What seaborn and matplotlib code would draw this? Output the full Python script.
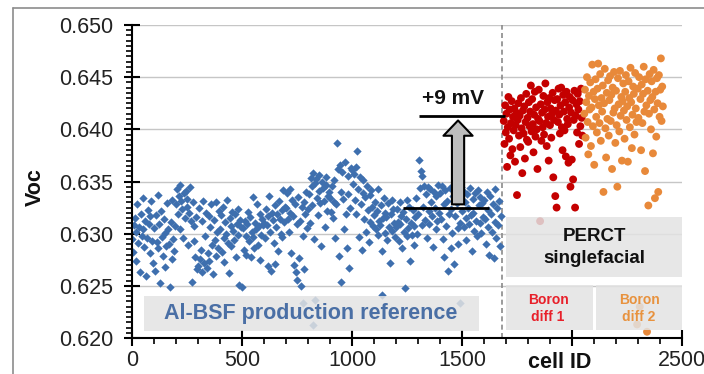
import numpy as np
import pandas as pd
import matplotlib
matplotlib.use("Agg")
import matplotlib.pyplot as plt
import seaborn as sns
from matplotlib.lines import Line2D
from matplotlib.patches import Rectangle
from matplotlib.ticker import MultipleLocator, FormatStrFormatter

# ---------------- data (Voc in mV) ----------------
# Al-BSF reference: every 4th cell, one list per 100-cell block
blue_0000 = [629.5, 628.2, 630.8, 631.5, 627.4, 630.2, 632.8, 629.1, 630.6, 626.3, 631.9, 629.8, 633.4, 630.4, 628.7, 631.2, 625.9, 629.6, 632.3, 630.9, 628.1, 631.7, 633.1, 629.3, 627.2]
blue_0100 = [630.5, 626.4, 631.8, 629.2, 633.7, 628.6, 630.9, 625.3, 632.2, 629.7, 627.9, 631.4, 630.1, 626.8, 628.8, 632.9, 630.4, 629.0, 624.9, 631.1, 627.6, 633.2, 629.5, 628.3, 630.7]
blue_0200 = [632.8, 634.3, 631.9, 633.6, 630.4, 634.7, 633.1, 632.4, 629.6, 633.9, 631.5, 634.1, 632.6, 633.3, 628.9, 632.0, 634.5, 631.2, 625.4, 633.0, 630.7, 629.3, 627.8, 631.6, 626.6]
blue_0300 = [626.9, 632.5, 627.6, 628.4, 631.2, 626.3, 633.1, 627.2, 629.8, 632.0, 626.7, 628.1, 631.7, 627.4, 630.6, 632.8, 628.9, 626.1, 631.3, 629.4, 633.0, 627.9, 630.2, 628.6, 632.2]
blue_0400 = [630.4, 631.8, 628.2, 632.6, 629.6, 627.3, 631.1, 630.0, 633.2, 629.1, 626.2, 631.5, 630.7, 628.8, 632.1, 630.3, 629.4, 631.9, 627.8, 630.9, 632.4, 629.9, 625.1, 631.3, 630.6]
blue_0500 = [624.9, 630.5, 628.4, 631.2, 629.8, 628.0, 630.9, 632.1, 629.3, 631.6, 627.8, 630.2, 633.5, 629.7, 628.6, 631.0, 630.4, 632.8, 628.9, 630.7, 631.9, 627.5, 629.9, 631.4, 630.8]
blue_0600 = [631.0, 629.6, 632.4, 630.8, 626.9, 631.7, 633.6, 630.2, 626.4, 632.0, 631.3, 629.1, 627.1, 632.7, 630.6, 631.9, 628.3, 633.1, 631.4, 630.0, 632.3, 629.7, 634.2, 631.1, 632.6]
blue_0700 = [632.5, 633.9, 631.4, 630.2, 634.3, 632.0, 628.1, 633.2, 631.7, 627.0, 632.8, 626.3, 630.9, 625.6, 633.5, 627.7, 631.2, 625.0, 632.6, 629.8, 633.0, 626.6, 631.9, 634.0, 630.5]
blue_0800 = [632.4, 633.8, 631.0, 635.3, 634.6, 632.7, 635.8, 629.5, 634.9, 635.2, 633.4, 631.8, 635.6, 634.1, 632.9, 628.8, 635.0, 634.4, 633.1, 630.6, 634.7, 635.4, 632.2, 633.6, 634.0]
blue_0900 = [633.4, 632.1, 634.6, 631.5, 633.0, 635.1, 629.6, 632.8, 638.7, 636.2, 627.9, 636.6, 634.0, 625.4, 635.9, 633.3, 630.4, 636.9, 631.9, 628.6, 635.5, 633.8, 626.7, 632.5, 636.3]
blue_1000 = [636.1, 634.8, 635.7, 633.2, 636.4, 631.9, 637.9, 634.3, 629.7, 635.4, 632.8, 628.4, 633.9, 635.1, 631.4, 633.5, 630.2, 634.6, 632.3, 629.2, 633.7, 631.1, 634.2, 632.6, 630.7]
blue_1100 = [631.8, 633.0, 630.4, 632.2, 629.9, 634.3, 631.2, 630.8, 632.7, 628.3, 631.5, 633.4, 630.1, 632.0, 631.6, 629.4, 632.9, 630.6, 627.2, 631.9, 633.2, 630.3, 632.4, 631.0, 629.7]
blue_1200 = [630.6, 632.4, 631.1, 629.3, 633.0, 630.9, 631.7, 628.6, 632.1, 630.2, 624.8, 631.4, 633.2, 629.8, 630.5, 632.6, 627.4, 631.0, 629.9, 632.3, 630.7, 628.9, 631.6, 633.4, 630.0]
blue_1300 = [631.9, 637.1, 634.4, 636.0, 630.8, 635.5, 632.6, 634.6, 631.3, 633.8, 629.6, 634.5, 632.2, 630.9, 634.3, 633.0, 631.7, 628.7, 634.0, 632.5, 630.4, 633.6, 631.2, 634.7, 632.0]
blue_1400 = [633.9, 631.4, 634.6, 629.5, 632.8, 627.8, 634.2, 630.7, 633.1, 626.4, 631.9, 634.4, 628.6, 632.4, 630.1, 633.6, 627.1, 631.7, 634.0, 632.9, 630.5, 629.0, 633.3, 631.0, 634.5]
blue_1500 = [632.2, 634.1, 630.6, 633.0, 631.5, 629.4, 633.8, 632.5, 630.9, 634.4, 631.8, 628.3, 633.3, 632.0, 630.3, 633.9, 631.2, 629.8, 634.2, 632.7, 631.0, 633.5, 630.1, 632.9, 631.6]
blue_1600 = [633.2, 631.4, 629.0, 634.0, 630.6, 632.3, 628.0, 633.6, 631.9, 630.2, 632.8, 627.7, 631.1, 634.3, 629.6, 632.5, 630.8, 633.1, 628.8, 631.7]
blue_extra_id = [777, 823, 832, 1136, 1491]
blue_extra_mv = [623.4, 621.2, 623.6, 624.1, 623.4]

# PERC boron diff 1: every 3rd cell, one list per 60-cell block from 1690
red_1690 = [640.8, 638.6, 642.3, 639.7, 641.5, 636.4, 640.2, 643.1, 639.1, 641.9, 637.5, 640.6, 642.7, 638.1, 641.2, 639.9, 642.0, 636.9, 640.4, 641.6]
red_1750 = [633.7, 640.9, 642.5, 639.4, 641.3, 638.3, 643.0, 640.1, 635.8, 641.8, 639.6, 642.2, 637.2, 640.7, 643.4, 639.0, 641.1, 638.8, 642.6, 640.3]
red_1810 = [641.7, 644.2, 639.8, 642.9, 640.5, 637.8, 641.4, 643.6, 639.3, 642.1, 640.0, 636.2, 641.0, 643.8, 640.8, 631.2, 642.4, 638.9, 641.6, 640.2]
red_1870 = [643.2, 639.5, 641.9, 644.4, 640.6, 638.4, 642.6, 641.2, 637.0, 643.0, 640.4, 642.0, 639.2, 641.5, 643.5, 635.4, 640.9, 642.8, 633.6, 641.8]
red_1930 = [632.5, 642.9, 640.7, 643.9, 641.4, 639.6, 642.3, 644.0, 640.2, 638.0, 643.3, 641.7, 639.9, 642.6, 637.4, 643.6, 641.0, 640.5, 636.8, 642.1]
red_1990 = [643.1, 634.5, 641.6, 637.1, 642.8, 635.2, 640.9, 643.7, 632.5, 641.3, 642.4, 639.7, 643.4, 641.9, 638.6, 642.7, 640.3, 643.9, 641.1, 639.4]

# PERC boron diff 2: every 3rd cell, one list per 60-cell block from 2056
orange_2056 = [641.5, 643.8, 639.2, 642.6, 645.0, 640.7, 637.6, 643.2, 641.9, 644.5, 638.4, 642.1, 646.2, 640.3, 643.6, 636.6, 642.9, 644.8, 641.2, 639.7]
orange_2116 = [643.9, 646.3, 642.3, 640.6, 645.3, 638.9, 643.0, 641.7, 644.2, 634.0, 642.5, 645.8, 640.1, 637.3, 643.5, 641.0, 644.7, 639.4, 642.8, 645.1]
orange_2176 = [640.8, 643.3, 636.2, 644.0, 641.6, 645.5, 642.0, 638.7, 643.7, 640.4, 634.5, 644.9, 642.4, 639.8, 645.6, 641.3, 643.1, 637.0, 642.7, 644.4]
orange_2236 = [641.8, 639.1, 643.6, 645.2, 640.9, 642.2, 636.9, 644.6, 643.0, 640.2, 645.9, 642.6, 638.2, 641.4, 644.1, 643.4, 639.5, 645.4, 642.0, 640.7]
orange_2296 = [621.3, 643.9, 641.1, 645.0, 623.0, 642.9, 638.0, 644.3, 640.6, 643.4, 646.0, 641.7, 636.0, 644.8, 642.3, 620.6, 643.7, 632.7, 641.5, 645.3]
orange_2356 = [642.8, 640.0, 644.6, 643.1, 637.7, 645.7, 641.9, 633.4, 643.6, 639.3, 644.9, 642.5, 634.0, 645.2, 641.2, 643.8, 646.8, 640.8, 644.1, 642.2]

x_ticks = [0, 500, 1000, 1500, 2000, 2500]
x_tick_labels = ["0", "500", "1000", "1500", "", "2500"]

blue_blocks = [(0, blue_0000), (100, blue_0100), (200, blue_0200), (300, blue_0300),
               (400, blue_0400), (500, blue_0500), (600, blue_0600), (700, blue_0700),
               (800, blue_0800), (900, blue_0900), (1000, blue_1000), (1100, blue_1100),
               (1200, blue_1200), (1300, blue_1300), (1400, blue_1400), (1500, blue_1500),
               (1600, blue_1600)]
red_blocks = [(1690, red_1690), (1750, red_1750), (1810, red_1810),
              (1870, red_1870), (1930, red_1930), (1990, red_1990)]
orange_blocks = [(2056, orange_2056), (2116, orange_2116), (2176, orange_2176),
                 (2236, orange_2236), (2296, orange_2296), (2356, orange_2356)]

rows = []
for start, blk in blue_blocks:
    for i, v in enumerate(blk):
        rows.append(("ref", start + 4 * i, v / 1000))
for c, v in zip(blue_extra_id, blue_extra_mv):
    rows.append(("ref", c, v / 1000))
for start, blk in red_blocks:
    for i, v in enumerate(blk):
        rows.append(("b1", start + 3 * i, v / 1000))
for start, blk in orange_blocks:
    for i, v in enumerate(blk):
        rows.append(("b2", start + 3 * i, v / 1000))
df = pd.DataFrame(rows, columns=["group", "cell", "voc"])

BLUE = "#3e6fae"
RED = "#c40000"
ORANGE = "#e8893a"

# ---------------- figure ----------------
sns.set_theme(style="white")
plt.rcParams["font.family"] = ["Liberation Sans", "DejaVu Sans"]

W, H = 704, 374
fig = plt.figure(figsize=(W / 100, H / 100), dpi=100)
ax = fig.add_axes([132 / W, 36 / H, 550 / W, 313 / H])

sns.scatterplot(data=df[df.group == "ref"], x="cell", y="voc", marker="D", s=18,
                color=BLUE, linewidth=0, ax=ax, legend=False, zorder=2)
sns.scatterplot(data=df[df.group != "ref"], x="cell", y="voc", hue="group",
                palette={"b1": RED, "b2": ORANGE}, s=32, linewidth=0, ax=ax,
                legend=False, zorder=2)

ax.set_xlim(0, 2500)
ax.set_ylim(0.620, 0.650)
ax.set_xticks(x_ticks)
ax.set_xticklabels(x_tick_labels)
ax.xaxis.set_minor_locator(MultipleLocator(100))
ax.yaxis.set_major_locator(MultipleLocator(0.005))
ax.yaxis.set_minor_locator(MultipleLocator(0.0005))
ax.yaxis.set_major_formatter(FormatStrFormatter("%.3f"))
ax.tick_params(which="major", direction="inout", length=11, width=1.5,
               colors="black", labelsize=15.5, labelcolor="#222222")
ax.tick_params(axis="x", which="major", pad=3)
ax.tick_params(axis="y", which="major", pad=8)
ax.tick_params(which="minor", direction="out", length=4, width=1.2, colors="black")
ax.tick_params(bottom=True, left=True, which="both")
for s in ["top", "right"]:
    ax.spines[s].set_visible(False)
for s in ["left", "bottom"]:
    ax.spines[s].set_color("black")
    ax.spines[s].set_linewidth(1.5)
ax.yaxis.grid(True, color="#c6c6c6", lw=1.0)
ax.set_axisbelow(True)
ax.set_xlabel("")
ax.set_ylabel("")

fig.text(35 / W, 1 - 187 / H, "Voc", rotation=90, ha="center", va="center",
         fontweight="bold", fontsize=15.5, color="#111111")
fig.text(560 / W, 1 - 362 / H, "cell ID", ha="center", va="center",
         fontweight="bold", fontsize=15.5, color="#111111")

# separator
ax.axvline(1682, color="#8a8a8a", ls=(0, (3, 2)), lw=1.2, zorder=1.5)

# boxes
BOX = "#e3e3e3"
for (x0, x1, y0, y1) in [(55, 1577, 0.62067, 0.62402),
                         (1700, 2500, 0.62584, 0.63159),
                         (1700, 2095, 0.62077, 0.62508),
                         (2109, 2500, 0.62077, 0.62508)]:
    ax.add_patch(Rectangle((x0, y0), x1 - x0, y1 - y0, fc=BOX, ec="none",
                           alpha=0.85, zorder=3, clip_on=False))

ax.text(814, 0.62235, "Al-BSF production reference", ha="center", va="center",
        color="#4a6fa5", fontweight="bold", fontsize=15.5, zorder=4)
ax.text(2100, 0.62870, "PERCT\nsinglefacial", ha="center", va="center",
        color="#111111", fontweight="bold", fontsize=13.5, linespacing=1.35, zorder=4)
ax.text(1891, 0.62283, "Boron\ndiff 1", ha="center", va="center",
        color="#e8202a", fontweight="bold", fontsize=10, linespacing=1.25, zorder=4)
ax.text(2305, 0.62283, "Boron\ndiff 2", ha="center", va="center",
        color="#e8923e", fontweight="bold", fontsize=10, linespacing=1.25, zorder=4)

# +9 mV annotation
ax.annotate("", xy=(1482, 0.64085), xytext=(1482, 0.63281),
            arrowprops=dict(arrowstyle="simple,head_length=1.1,head_width=2.1,tail_width=0.88",
                            mutation_scale=10, fc="#bdbdbd", ec="black", lw=1.5,
                            shrinkA=0, shrinkB=0), zorder=4)
ax.plot([1305, 1695], [0.6413, 0.6413], color="black", lw=2, zorder=5, solid_capstyle="butt")
ax.plot([1232, 1623], [0.63242, 0.63242], color="black", lw=2, zorder=5, solid_capstyle="butt")
ax.text(1459, 0.6430, "+9 mV", ha="center", va="center", color="#111111",
        fontweight="bold", fontsize=15, zorder=5)

# outer chart frame
fig.add_artist(Line2D([13 / W, 1], [1 - 8 / H, 1 - 8 / H], transform=fig.transFigure,
                      color="#8c8c8c", lw=1.2))
fig.add_artist(Line2D([13 / W, 13 / W], [0, 1 - 8 / H], transform=fig.transFigure,
                      color="#8c8c8c", lw=1.2))

fig.savefig("out.png", dpi=100)
